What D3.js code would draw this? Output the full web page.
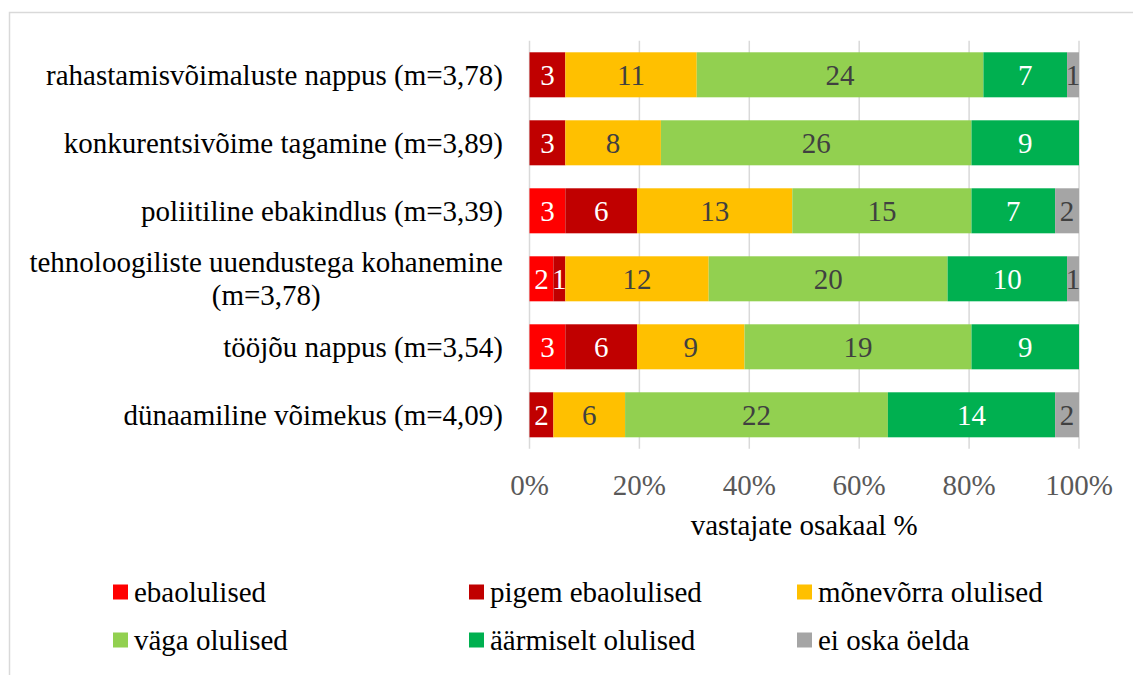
<!DOCTYPE html>
<html>
<head>
<meta charset="utf-8">
<script src="https://cdn.jsdelivr.net/npm/d3@7"></script>
<style>
  body { margin: 0; background: #fff; }
</style>
</head>
<body>
<div id="chart"></div>
<script>
// categories, top to bottom
var categories = [
  "rahastamisvõimaluste nappus (m=3,78)",
  "konkurentsivõime tagamine (m=3,89)",
  "poliitiline ebakindlus (m=3,39)",
  "tehnoloogiliste uuendustega kohanemine|(m=3,78)",
  "tööjõu nappus (m=3,54)",
  "dünaamiline võimekus (m=4,09)"
];

var seriesNames = ["ebaolulised", "pigem ebaolulised", "mõnevõrra olulised", "väga olulised", "äärmiselt olulised", "ei oska öelda"];
var seriesColors = ["#ff0000", "#c00000", "#ffc000", "#92d050", "#00b050", "#a5a5a5"];
var labelColors = ["#ffffff", "#ffffff", "#404040", "#404040", "#ffffff", "#404040"];

// answer counts per series (same order as categories)
var ebaolulised = [0, 0, 3, 2, 3, 0];
var pigemEbaolulised = [3, 3, 6, 1, 6, 2];
var monevorraOlulised = [11, 8, 13, 12, 9, 6];
var vagaOlulised = [24, 26, 15, 20, 19, 22];
var aarmiseltOlulised = [7, 9, 7, 10, 9, 14];
var eiOskaOelda = [1, 0, 2, 1, 0, 2];

var xTicks = [0, 0.2, 0.4, 0.6, 0.8, 1];
var axisTitle = "vastajate osakaal %";

var series = [ebaolulised, pigemEbaolulised, monevorraOlulised, vagaOlulised, aarmiseltOlulised, eiOskaOelda];

var W = 1133, H = 675;
var margin = { top: 40.8, left: 529.5, right: 54, bottom: 226.2 };
var FS = 29;
var FONT = "Liberation Serif";

var svg = d3.select("#chart").append("svg")
  .attr("width", W).attr("height", H);

// chart area border
svg.append("rect")
  .attr("x", 9.5).attr("y", 12.5)
  .attr("width", W).attr("height", H)
  .attr("fill", "none").attr("stroke", "#d9d9d9").attr("stroke-width", 1.5);

var x = d3.scaleLinear().domain([0, 1]).range([margin.left, W - margin.right]);
var y = d3.scaleBand().domain(categories).range([margin.top, H - margin.bottom]).paddingInner(0.338).paddingOuter(0.169);

// grid lines
svg.append("g").selectAll("line")
  .data(xTicks).enter().append("line")
  .attr("x1", function (d) { return x(d); })
  .attr("x2", function (d) { return x(d); })
  .attr("y1", margin.top)
  .attr("y2", H - margin.bottom)
  .attr("stroke", "#d9d9d9").attr("stroke-width", 1.5);

// build stacked data
var rows = categories.map(function (c, i) {
  var total = d3.sum(series, function (s) { return s[i]; });
  var acc = 0;
  return series.map(function (s, k) {
    var seg = { cat: c, k: k, v: s[i], x0: acc / total, x1: (acc + s[i]) / total };
    acc += s[i];
    return seg;
  });
});
var segs = d3.merge(rows).filter(function (d) { return d.v > 0; });

svg.append("g").selectAll("rect")
  .data(segs).enter().append("rect")
  .attr("x", function (d) { return x(d.x0); })
  .attr("y", function (d) { return y(d.cat); })
  .attr("width", function (d) { return x(d.x1) - x(d.x0); })
  .attr("height", y.bandwidth())
  .attr("fill", function (d) { return seriesColors[d.k]; });

svg.append("g").selectAll("text")
  .data(segs).enter().append("text")
  .attr("font-family", FONT)
  .attr("x", function (d) { return (x(d.x0) + x(d.x1)) / 2; })
  .attr("y", function (d) { return y(d.cat) + y.bandwidth() / 2; })
  .attr("dy", "0.35em")
  .attr("text-anchor", "middle")
  .attr("font-size", FS)
  .attr("fill", function (d) { return labelColors[d.k]; })
  .text(function (d) { return d.v; });

// category labels
var catG = svg.append("g");
categories.forEach(function (c) {
  var lines = c.split("|");
  var cy = y(c) + y.bandwidth() / 2;
  if (lines.length === 1) {
    catG.append("text").attr("font-family", FONT)
      .attr("x", 503).attr("y", cy).attr("dy", "0.35em")
      .attr("text-anchor", "end").attr("font-size", FS).attr("fill", "#000")
      .text(c);
  } else {
    var t1 = catG.append("text").attr("font-family", FONT)
      .attr("x", 503).attr("y", cy - 16.5).attr("dy", "0.35em")
      .attr("text-anchor", "end").attr("font-size", FS).attr("fill", "#000")
      .text(lines[0]);
    var w1 = t1.node().getComputedTextLength();
    catG.append("text").attr("font-family", FONT)
      .attr("x", 503 - w1 / 2).attr("y", cy + 16.5).attr("dy", "0.35em")
      .attr("text-anchor", "middle").attr("font-size", FS).attr("fill", "#000")
      .text(lines[1]);
  }
});

// x axis labels
svg.append("g").selectAll("text")
  .data(xTicks).enter().append("text")
  .attr("font-family", FONT)
  .attr("x", function (d) { return x(d); })
  .attr("y", 485).attr("dy", "0.35em")
  .attr("text-anchor", "middle")
  .attr("font-size", FS).attr("fill", "#595959")
  .text(d3.format(".0%"));

svg.append("text").attr("font-family", FONT)
  .attr("x", (x(0) + x(1)) / 2).attr("y", 525).attr("dy", "0.35em")
  .attr("text-anchor", "middle").attr("font-size", FS).attr("fill", "#000")
  .text(axisTitle);

// legend
var legX = [113, 469, 797];
var legY = [592, 640];
var leg = svg.append("g").selectAll("g")
  .data(seriesNames).enter().append("g")
  .attr("transform", function (d, i) {
    return "translate(" + legX[i % 3] + "," + legY[Math.floor(i / 3)] + ")";
  });
leg.append("rect")
  .attr("x", 0).attr("y", -7.5).attr("width", 15).attr("height", 15)
  .attr("fill", function (d, i) { return seriesColors[i]; });
leg.append("text").attr("font-family", FONT)
  .attr("x", 21).attr("y", 0).attr("dy", "0.35em")
  .attr("font-size", FS).attr("fill", "#000")
  .text(function (d) { return d; });
</script>
</body>
</html>
